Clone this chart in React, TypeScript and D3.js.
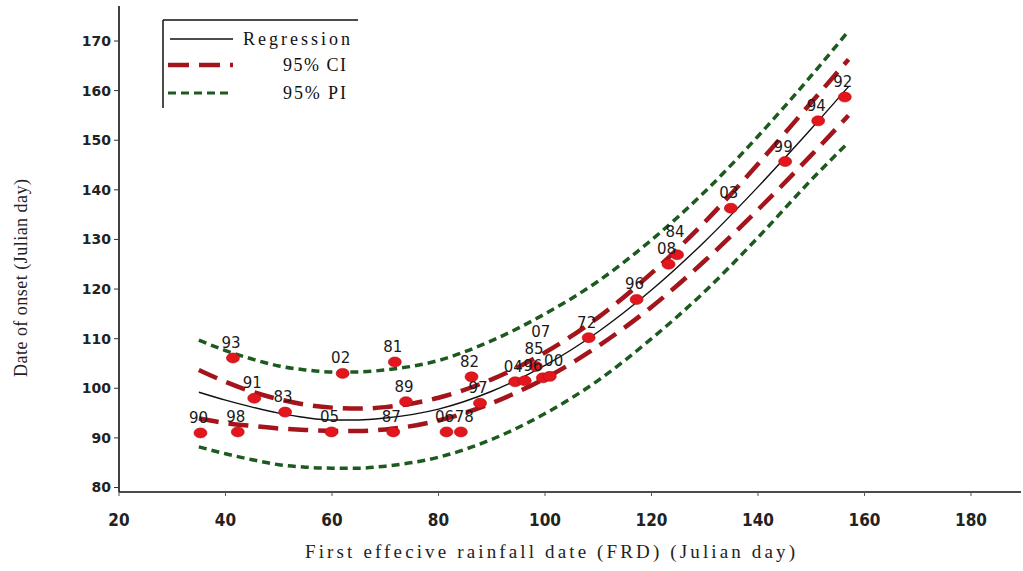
import React from 'react';
import * as d3 from 'd3';

// Observed years (labels), first effective rainfall date and onset date
const yearLabels = ['90', '98', '93', '91', '83', '05', '02', '81', '89', '87', '06', '78', '82', '97', '04', '96', '85', '07', '00', '72', '96', '08', '84', '03', '99', '94', '92'];
const frdValues = [35.3, 42.3, 41.4, 45.4, 51.2, 59.9, 62.0, 71.8, 73.9, 71.5, 81.5, 84.2, 86.2, 87.8, 94.4, 96.2, 98.3, 99.6, 100.9, 108.2, 117.2, 123.2, 124.8, 134.9, 145.1, 151.3, 156.3];
const onsetValues = [91.0, 91.2, 106.1, 98.0, 95.2, 91.2, 103.0, 105.3, 97.3, 91.2, 91.2, 91.2, 102.3, 97.0, 101.3, 101.5, 104.4, 102.1, 102.4, 110.2, 117.9, 125.0, 126.9, 136.3, 145.7, 153.9, 158.7];

// Curves
const curveX = [35, 40, 45, 50, 55, 60, 65, 70, 80, 90, 100, 110, 120, 130, 140, 150, 157];
const regression = [99.2, 97.6, 96.2, 95.0, 94.1, 93.6, 93.6, 94.0, 95.8, 99.4, 104.6, 111.4, 119.8, 129.6, 140.6, 152.3, 160.8];
const ciUpper = [103.7, 101.3, 99.3, 97.8, 96.7, 96.1, 95.9, 96.2, 98.1, 101.8, 107.2, 114.3, 123.2, 133.5, 145.2, 157.6, 166.3];
const ciLower = [93.9, 93.0, 92.4, 91.9, 91.6, 91.4, 91.4, 91.7, 93.5, 97.0, 102.0, 108.5, 116.4, 125.7, 136.0, 147.0, 155.0];
const piUpper = [109.7, 107.6, 105.9, 104.5, 103.7, 103.3, 103.3, 103.7, 105.6, 109.6, 115.0, 121.6, 129.9, 139.6, 150.8, 163.0, 172.0];
const piLower = [88.2, 86.8, 85.6, 84.6, 84.1, 83.9, 83.9, 84.3, 86.1, 89.7, 94.9, 101.6, 110.0, 119.5, 130.4, 142.0, 149.6];

const xTicks = [20, 40, 60, 80, 100, 120, 140, 160, 180];
const yTicks = [80, 90, 100, 110, 120, 130, 140, 150, 160, 170];

const legendLabels = ['Regression', '95% CI', '95% PI'];

const RED_DASH = '#a3141b';
const GREEN_DASH = '#1d5a1f';
const POINT_RED = '#e2161c';

const LABEL_FONT = 15;
const LABEL_CHAR_W = 9.6;
const LABEL_H = 17;

export default function App() {
  const x = d3.scaleLinear().domain([20, 180]).range([119, 971]);
  const y = d3.scaleLinear().domain([80, 170]).range([487.5, 41]);

  const lineOf = (vals: number[]) =>
    d3
      .line<number>()
      .x((_, i) => x(curveX[i]))
      .y((d) => y(d))
      .curve(d3.curveMonotoneX)(vals) || '';

  // place point labels above points, nudging to avoid overlaps
  const order = d3.range(frdValues.length).sort((a, b) => frdValues[a] - frdValues[b]);
  const placed: { cx: number; by: number; w: number }[] = [];
  const labelPos: { lx: number; ly: number }[] = new Array(frdValues.length);
  order.forEach((i) => {
    const w = yearLabels[i].length * LABEL_CHAR_W;
    let cx = x(frdValues[i]) - 2;
    let by = y(onsetValues[i]) - 10;
    for (let iter = 0; iter < 6; iter++) {
      const hit = placed.find(
        (p) => Math.abs(p.cx - cx) < (p.w + w) / 2 && Math.abs(p.by - by) < LABEL_H
      );
      if (!hit) break;
      const need = (hit.w + w) / 2 - Math.abs(hit.cx - cx);
      if (need < 10 && cx >= hit.cx) cx += need + 0.5;
      else by = hit.by - LABEL_H;
    }
    placed.push({ cx, by, w });
    labelPos[i] = { lx: cx, ly: by };
  });

  const axisY = 492;
  const axisX = 119;

  return (
    <svg
      width={1023}
      height={571}
      style={{ position: 'absolute', left: 0, top: 0, background: '#fff' }}
    >
      <rect x={0} y={0} width={1023} height={571} fill="#fff" />

      {/* axes */}
      <line x1={axisX} y1={6} x2={axisX} y2={axisY} stroke="#111" strokeWidth={1.6} />
      <line x1={axisX} y1={axisY} x2={1021} y2={axisY} stroke="#111" strokeWidth={1.6} />

      {yTicks.map((t) => (
        <g key={'yt' + t}>
          <line x1={axisX - 5} x2={axisX} y1={y(t)} y2={y(t)} stroke="#333" strokeWidth={1} />
          <text
            x={axisX - 8}
            y={y(t)}
            dy="0.35em"
            textAnchor="end"
            fontFamily="DejaVu Sans, sans-serif"
            fontWeight="bold"
            fontSize={14}
            fill="#222"
          >
            {t}
          </text>
        </g>
      ))}

      {xTicks.map((t) => (
        <g key={'xt' + t}>
          <line x1={x(t)} x2={x(t)} y1={axisY} y2={axisY + 4} stroke="#555" strokeWidth={1} />
          <text
            x={x(t)}
            y={526}
            textAnchor="middle"
            fontFamily="DejaVu Sans Condensed, DejaVu Sans, sans-serif"
            fontWeight="bold"
            fontSize={17}
            fill="#222"
          >
            {t}
          </text>
        </g>
      ))}

      {/* axis titles */}
      <text
        x={550}
        y={558}
        textAnchor="middle"
        fontFamily="Liberation Serif, serif"
        fontSize={19}
        fill="#222"
        textLength={490}
        lengthAdjust="spacing"
      >
        First effecive rainfall date (FRD)  (Julian day)
      </text>
      <text
        transform={`translate(27,${278}) rotate(-90)`}
        textAnchor="middle"
        fontFamily="Liberation Serif, serif"
        fontSize={18}
        fill="#222"
        textLength={198}
        lengthAdjust="spacing"
      >
        Date of onset  (Julian day)
      </text>

      {/* curves */}
      <path d={lineOf(piUpper)} fill="none" stroke={GREEN_DASH} strokeWidth={3.5} strokeDasharray="8 5" />
      <path d={lineOf(piLower)} fill="none" stroke={GREEN_DASH} strokeWidth={3.5} strokeDasharray="8 5" />
      <path d={lineOf(ciUpper)} fill="none" stroke={RED_DASH} strokeWidth={4.5} strokeDasharray="20 10" />
      <path d={lineOf(ciLower)} fill="none" stroke={RED_DASH} strokeWidth={4.5} strokeDasharray="20 10" />
      <path d={lineOf(regression)} fill="none" stroke="#111" strokeWidth={1.4} />

      {/* points */}
      {frdValues.map((fx, i) => (
        <ellipse
          key={'pt' + i}
          cx={x(fx)}
          cy={y(onsetValues[i])}
          rx={6.5}
          ry={5}
          fill={POINT_RED}
          stroke="#b50e12"
          strokeWidth={0.6}
        />
      ))}
      {frdValues.map((_, i) => (
        <text
          key={'lb' + i}
          x={labelPos[i].lx}
          y={labelPos[i].ly}
          textAnchor="middle"
          fontFamily="DejaVu Sans, sans-serif"
          fontSize={LABEL_FONT}
          fill="#1a1a1a"
        >
          {yearLabels[i]}
        </text>
      ))}

      {/* legend */}
      <line x1={163} y1={20} x2={358} y2={20} stroke="#111" strokeWidth={1.5} />
      <line x1={163} y1={20} x2={163} y2={108} stroke="#111" strokeWidth={1.5} />
      <line x1={170} y1={39} x2={233} y2={39} stroke="#111" strokeWidth={1.4} />
      <line x1={168} y1={65} x2={233} y2={65} stroke={RED_DASH} strokeWidth={4.5} strokeDasharray="21 10" />
      <line x1={168} y1={93} x2={233} y2={93} stroke={GREEN_DASH} strokeWidth={3.2} strokeDasharray="8 5" />
      <text x={243} y={45} fontFamily="Liberation Serif, serif" fontSize={18} fill="#111" textLength={107} lengthAdjust="spacing">
        {legendLabels[0]}
      </text>
      <text x={283} y={71} fontFamily="Liberation Serif, serif" fontSize={18} fill="#111" textLength={63} lengthAdjust="spacing">
        {legendLabels[1]}
      </text>
      <text x={283} y={99} fontFamily="Liberation Serif, serif" fontSize={18} fill="#111" textLength={63} lengthAdjust="spacing">
        {legendLabels[2]}
      </text>
    </svg>
  );
}
